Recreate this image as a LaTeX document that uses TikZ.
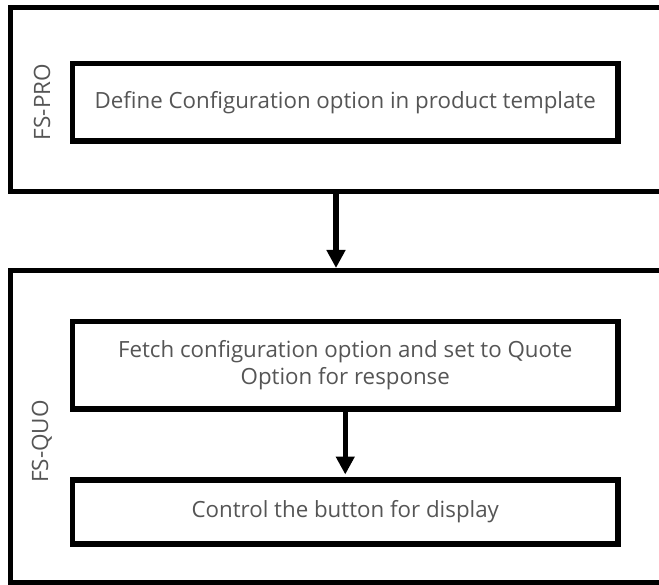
\documentclass[tikz,border=0pt]{standalone}
\usepackage{fontspec}
\setmainfont{Open Sans}
\usetikzlibrary{arrows.meta}
\definecolor{txt}{HTML}{555555}
\begin{document}
\begin{tikzpicture}[x=1pt,y=-1pt,
  lane/.style={draw=black, line width=5pt, outer sep=0pt, inner sep=0pt, anchor=north west},
  stepbox/.style={draw=black, line width=5.5pt, outer sep=0pt, inner sep=0pt,
    minimum width=545.5pt, text=txt, align=center,
    font=\fontsize{22.3}{27}\selectfont},
  lanelabel/.style={rotate=90, text=txt, font=\fontsize{22.5}{24}\selectfont},
  flow/.style={line width=5.5pt, -{Triangle[width=18pt,length=18pt]}}]
  \useasboundingbox (0,0) rectangle (659,585);
  \clip (0,0) rectangle (659,585);
  \fill[white] (0,0) rectangle (659,585);

  % swim lanes (right edges run past the page)
  \node[lane, minimum width=652pt, minimum height=183.5pt] (pro) at (10,8) {};
  \node[lane, minimum width=652pt, minimum height=311pt] (quo) at (10,271) {};

  \node[lanelabel] (prolbl) at (42,102) {FS-PRO};
  \node[lanelabel] (quolbl) at (42,441.5) {FS-QUO};

  % process steps
  \node[stepbox, minimum height=77.5pt] (define) at (345.25,102.25)
    {Define Configuration option in product template};
  \node[stepbox, minimum height=87.5pt] (fetch) at (345.25,365.25)
    {Fetch configuration option and set to Quote\\Option for response};
  \node[stepbox, minimum height=64pt] (control) at (345.25,512)
    {Control the button for display};

  % flow
  \draw[flow, shorten >=3pt] (pro.south) -- (quo.north);
  \draw[flow, shorten >=5.5pt] (fetch.south) -- (control.north);
\end{tikzpicture}
\end{document}
